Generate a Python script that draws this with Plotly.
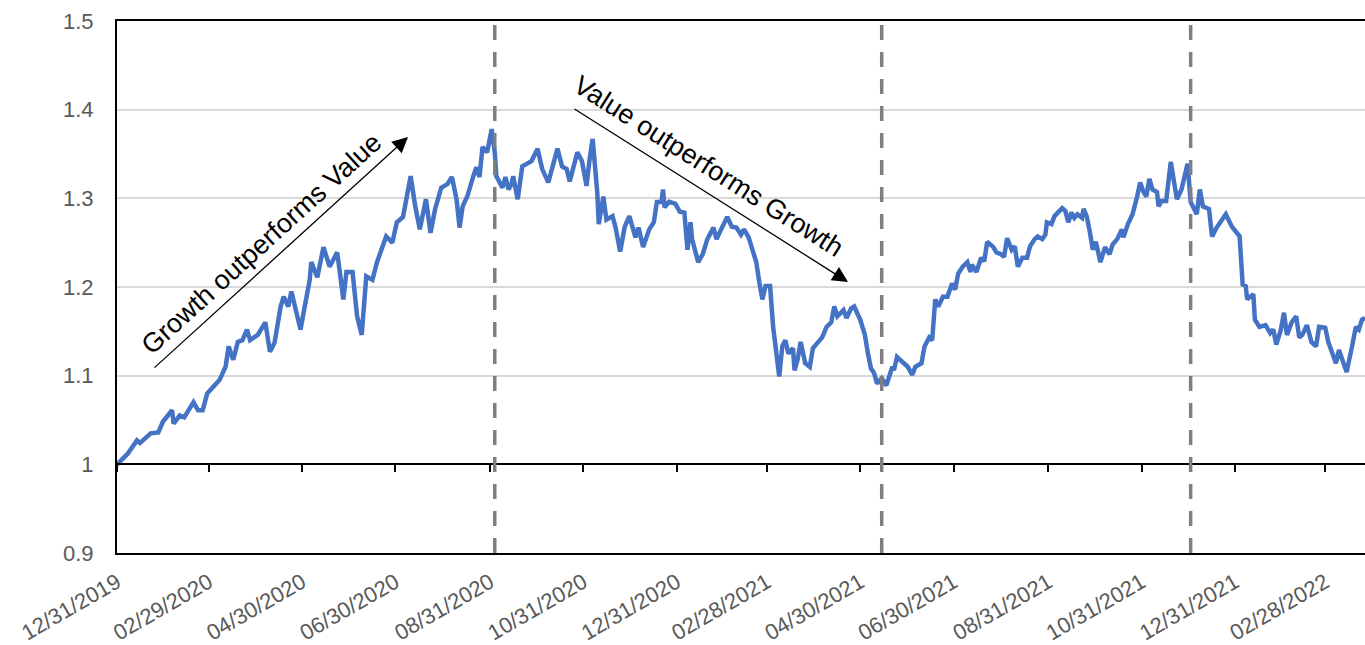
import plotly.graph_objects as go
import pandas as pd

# ---------------- data ----------------
start_date = "2019-12-31"
end_date = "2022-03-26"

# days after 12/31/2019
day_offsets = [0, 7, 13, 15, 22, 27, 30, 36, 37, 41, 44, 50, 53, 56, 59, 65, 67, 71, 73, 76, 79, 82, 85, 87, 92,
               97, 100, 103, 107, 109, 112, 114, 116, 120, 122, 126, 127, 131, 135, 139, 144, 148, 150, 154, 157,
               160, 163, 167, 170, 176, 180, 183, 187, 192, 195, 198, 202, 205, 208, 212, 216, 219, 222, 224, 226,
               229, 233, 235, 237, 239, 242, 245, 247, 248, 252, 254, 256, 258, 259, 262, 265, 268, 271, 275, 278,
               282, 288, 291, 294, 296, 298, 301, 304, 307, 309, 311, 314, 315, 318, 320, 324, 326, 329, 332, 335,
               339, 341, 344, 348, 351, 353, 356, 357, 358, 361, 365, 368, 371, 373, 375, 376, 378, 380, 383, 386,
               390, 392, 395, 399, 402, 405, 408, 410, 413, 418, 420, 422, 424, 427, 429, 431, 433, 435, 437, 439,
               442, 443, 445, 447, 450, 453, 455, 458, 461, 464, 467, 469, 471, 475, 477, 480, 482, 486, 489, 491,
               493, 495, 497, 500, 503, 507, 508, 510, 514, 517, 520, 522, 526, 528, 531, 533, 535, 537, 540, 543,
               546, 548, 550, 553, 556, 558, 559, 562, 565, 567, 569, 573, 575, 578, 580, 582, 585, 587, 589, 592,
               595, 597, 600, 602, 605, 607, 608, 611, 613, 615, 618, 620, 622, 624, 626, 628, 631, 632, 634, 636,
               638, 640, 643, 646, 649, 651, 654, 657, 658, 661, 664, 667, 669, 671, 673, 675, 677, 680, 681, 683,
               686, 689, 693, 696, 700, 702, 706, 708, 710, 714, 716, 719, 722, 725, 729, 734, 736, 738, 739, 743,
               744, 747, 751, 754, 756, 758, 761, 763, 765, 768, 771, 773, 775, 778, 781, 784, 786, 790, 792, 795,
               797, 799, 802, 804, 808, 810, 812, 814, 816]

ratio_values = [1.000, 1.012, 1.027, 1.024, 1.035, 1.036, 1.048, 1.061, 1.046, 1.055, 1.053, 1.070, 1.061, 1.061,
                1.080, 1.092, 1.095, 1.110, 1.133, 1.118, 1.138, 1.140, 1.152, 1.140, 1.146, 1.160, 1.127, 1.137,
                1.178, 1.189, 1.178, 1.195, 1.182, 1.152, 1.171, 1.208, 1.228, 1.211, 1.245, 1.223, 1.239, 1.186,
                1.217, 1.217, 1.167, 1.146, 1.212, 1.208, 1.228, 1.257, 1.250, 1.273, 1.279, 1.325, 1.291, 1.265,
                1.299, 1.261, 1.288, 1.312, 1.316, 1.324, 1.299, 1.267, 1.291, 1.302, 1.325, 1.335, 1.324, 1.358,
                1.352, 1.378, 1.352, 1.325, 1.312, 1.324, 1.310, 1.316, 1.325, 1.299, 1.336, 1.339, 1.342, 1.356,
                1.333, 1.318, 1.356, 1.336, 1.333, 1.319, 1.331, 1.352, 1.342, 1.314, 1.344, 1.367, 1.307, 1.271,
                1.302, 1.276, 1.280, 1.267, 1.240, 1.268, 1.280, 1.256, 1.267, 1.245, 1.265, 1.273, 1.296, 1.296,
                1.310, 1.290, 1.296, 1.294, 1.285, 1.284, 1.242, 1.273, 1.254, 1.240, 1.228, 1.237, 1.254, 1.267,
                1.254, 1.265, 1.279, 1.268, 1.267, 1.259, 1.265, 1.256, 1.228, 1.205, 1.186, 1.201, 1.201, 1.155,
                1.129, 1.099, 1.133, 1.140, 1.125, 1.131, 1.106, 1.118, 1.138, 1.114, 1.110, 1.131, 1.137, 1.143,
                1.155, 1.160, 1.178, 1.167, 1.174, 1.165, 1.176, 1.178, 1.163, 1.146, 1.125, 1.108, 1.103, 1.091,
                1.097, 1.089, 1.110, 1.106, 1.121, 1.114, 1.110, 1.101, 1.110, 1.114, 1.133, 1.143, 1.140, 1.186,
                1.178, 1.189, 1.189, 1.204, 1.197, 1.215, 1.223, 1.228, 1.217, 1.225, 1.217, 1.233, 1.229, 1.251,
                1.245, 1.239, 1.237, 1.234, 1.255, 1.242, 1.246, 1.223, 1.233, 1.233, 1.246, 1.254, 1.257, 1.254,
                1.259, 1.273, 1.271, 1.280, 1.284, 1.289, 1.286, 1.273, 1.284, 1.278, 1.282, 1.278, 1.288, 1.280,
                1.263, 1.242, 1.251, 1.228, 1.245, 1.237, 1.248, 1.254, 1.265, 1.256, 1.271, 1.282, 1.302, 1.318,
                1.308, 1.302, 1.322, 1.310, 1.307, 1.291, 1.297, 1.297, 1.341, 1.299, 1.310, 1.339, 1.296, 1.282,
                1.310, 1.291, 1.288, 1.257, 1.267, 1.274, 1.282, 1.268, 1.257, 1.203, 1.201, 1.186, 1.192, 1.163,
                1.155, 1.157, 1.148, 1.152, 1.135, 1.152, 1.171, 1.146, 1.160, 1.167, 1.143, 1.146, 1.157, 1.138,
                1.133, 1.155, 1.154, 1.138, 1.125, 1.114, 1.129, 1.114, 1.104, 1.137, 1.155, 1.152, 1.163, 1.165]

tick_dates = ["2019-12-31", "2020-02-29", "2020-04-30", "2020-06-30", "2020-08-31", "2020-10-31",
              "2020-12-31", "2021-02-28", "2021-04-30", "2021-06-30", "2021-08-31", "2021-10-31",
              "2021-12-31", "2022-02-28"]
y_ticks = [0.9, 1.0, 1.1, 1.2, 1.3, 1.4, 1.5]
y_tick_text = ["0.9", "1", "1.1", "1.2", "1.3", "1.4", "1.5"]

event_dates = ["2020-09-03", "2021-05-14", "2021-12-02"]

label_up = "Growth outperforms Value"
label_down = "Value outperforms Growth"

# ---------------- build ----------------
start = pd.Timestamp(start_date)
dates = [start + pd.Timedelta(days=d) for d in day_offsets]
tick_vals = [pd.Timestamp(t) for t in tick_dates]
tick_text = [t.strftime("%m/%d/%Y") for t in tick_vals]

FONT = "Liberation Sans, Arial, Helvetica, sans-serif"
GRAY_TXT = "#595959"

fig = go.Figure()

fig.add_trace(go.Scatter(x=dates, y=ratio_values, mode="lines",
                         line=dict(color="#4472C4", width=4.5), hoverinfo="skip"))
# helper trace so the y=1 axis (with tick marks) is drawn
fig.add_trace(go.Scatter(x=[dates[0]], y=[1.0], mode="lines", xaxis="x2",
                         line=dict(width=0), hoverinfo="skip", showlegend=False))

shapes = []
for d in event_dates:
    shapes.append(dict(type="line", xref="x", yref="y domain", x0=d, x1=d, y0=0, y1=1,
                       line=dict(color="#7f7f7f", width=3.5, dash="15px,12px"), layer="above"))

PW, PH, L, T = 1248, 532, 117, 21


def px_to_paper(px, py):
    return (px - L) / PW, (T + PH - py) / PH


ann = []
tx, ty = px_to_paper(261, 244)
ann.append(dict(text=label_up, xref="paper", yref="paper", x=tx, y=ty, showarrow=False,
                xanchor="center", yanchor="middle",
                textangle=-42.3, font=dict(family=FONT, size=27, color="black")))
hx, hy = px_to_paper(408, 137)
ann.append(dict(text="", xref="paper", yref="paper", x=hx, y=hy, showarrow=True,
                ax=153 - 408, ay=369 - 137, axref="pixel", ayref="pixel",
                arrowhead=2, arrowsize=2.4, arrowwidth=1.3, arrowcolor="black", standoff=0))
tx, ty = px_to_paper(708, 166)
ann.append(dict(text=label_down, xref="paper", yref="paper", x=tx, y=ty, showarrow=False,
                xanchor="center", yanchor="middle",
                textangle=32.4, font=dict(family=FONT, size=27, color="black")))
hx, hy = px_to_paper(848, 282)
ann.append(dict(text="", xref="paper", yref="paper", x=hx, y=hy, showarrow=True,
                ax=573 - 848, ay=108 - 282, axref="pixel", ayref="pixel",
                arrowhead=2, arrowsize=2.4, arrowwidth=1.3, arrowcolor="black", standoff=0))

fig.update_layout(
    width=1365, height=645,
    margin=dict(l=L, r=0, t=T, b=645 - T - PH),
    plot_bgcolor="white", paper_bgcolor="white",
    showlegend=False,
    font=dict(family=FONT, color=GRAY_TXT),
    xaxis=dict(type="date", range=[start_date, end_date], tickvals=tick_vals, ticktext=tick_text,
               tickangle=-30, showline=True, linecolor="black", linewidth=2, mirror=True,
               showgrid=False, zeroline=False, ticks="", ticklabelstandoff=6,
               tickfont=dict(family=FONT, size=22, color=GRAY_TXT)),
    xaxis2=dict(type="date", range=[start_date, end_date], overlaying="x", anchor="free",
                position=(1.0 - 0.9) / (1.5 - 0.9), side="bottom", tickvals=tick_vals,
                showticklabels=False, ticks="outside", ticklen=7, tickwidth=2, tickcolor="black",
                showline=True, linecolor="black", linewidth=2, showgrid=False, zeroline=False),
    yaxis=dict(range=[0.9, 1.5], tickvals=y_ticks, ticktext=y_tick_text, showline=True,
               linecolor="black", linewidth=2, showgrid=True, gridcolor="#d9d9d9", gridwidth=1.5,
               zeroline=False, ticks="", ticklabelstandoff=17,
               tickfont=dict(family=FONT, size=22, color=GRAY_TXT)),
    shapes=shapes,
    annotations=ann,
)

fig.write_html("out.html")
